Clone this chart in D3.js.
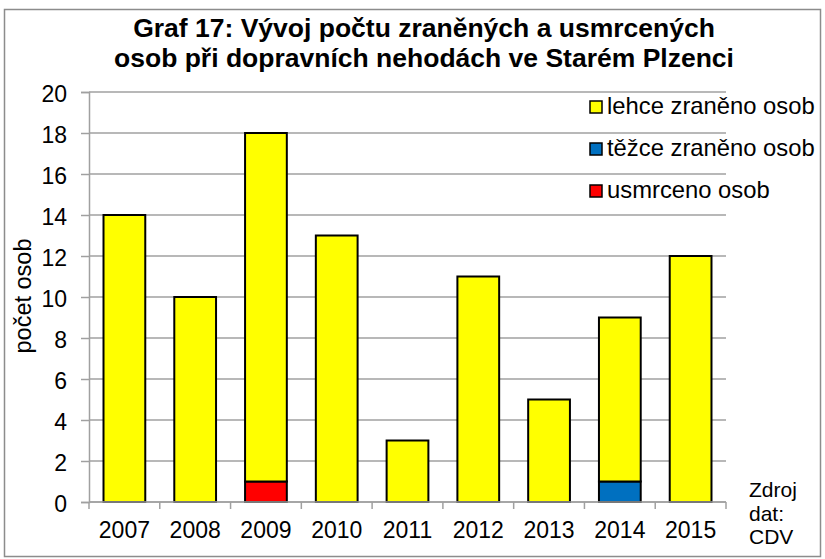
<!DOCTYPE html>
<html>
<head>
<meta charset="utf-8">
<script src="https://cdn.jsdelivr.net/npm/d3@7"></script>
<style>
        body { margin: 0; background: #fff; }
        text { font-family: "Liberation Sans", Arial, sans-serif; }
</style>
</head>
<body>
<svg id="chart" width="825" height="559"></svg>
<script>
// data
const years = ["2007", "2008", "2009", "2010", "2011", "2012", "2013", "2014", "2015"];
const lehce = [14, 10, 17, 13, 3, 11, 5, 8, 12];
const tezce = [0, 0, 0, 0, 0, 0, 0, 1, 0];
const usmrceno = [0, 0, 1, 0, 0, 0, 0, 0, 0];
const yTicks = [0, 2, 4, 6, 8, 10, 12, 14, 16, 18, 20];

const seriesNames = ["usmrceno osob", "těžce zraněno osob", "lehce zraněno osob"];
const seriesColours = ["#ff0000", "#0070c0", "#ffff00"];

const svg = d3.select("#chart");

// outer frame
svg.append("rect")
        .attr("x", 4.5).attr("y", 9.5)
        .attr("width", 816).attr("height", 547)
        .attr("fill", "#fff")
        .attr("stroke", "#8c8c8c")
        .attr("stroke-width", 1.5);

// title
const title = svg.append("text")
        .attr("text-anchor", "middle")
        .attr("font-size", "26.5px")
        .attr("font-weight", "bold")
        .attr("fill", "#000");
title.append("tspan").attr("x", 424).attr("y", 37).text("Graf 17: Vývoj počtu zraněných a usmrcených");
title.append("tspan").attr("x", 424).attr("y", 67).text("osob při dopravních nehodách ve Starém Plzenci");

const plotLeft = 89, plotRight = 726, plotTop = 92, plotBottom = 502;

const x = d3.scaleBand().domain(years).range([plotLeft, plotRight]).paddingInner(0.4).paddingOuter(0.2);
const y = d3.scaleLinear().domain([0, 20]).range([plotBottom, plotTop]);

// gridlines
svg.append("g")
        .selectAll("line")
        .data(yTicks)
        .join("line")
        .attr("x1", plotLeft).attr("x2", plotRight)
        .attr("y1", d => y(d)).attr("y2", d => y(d))
        .attr("stroke", "#a0a0a0")
        .attr("stroke-width", 1.5);

// stacked bars
const rows = years.map((yr, i) => ({
        year: yr,
        "usmrceno osob": usmrceno[i],
        "těžce zraněno osob": tezce[i],
        "lehce zraněno osob": lehce[i]
}));
const stack = d3.stack().keys(seriesNames)(rows);

const bw = x.step() * 0.59;
svg.append("g")
        .selectAll("g")
        .data(stack)
        .join("g")
        .attr("fill", (d, i) => seriesColours[i])
        .selectAll("rect")
        .data(d => d.filter(s => s[1] - s[0] > 0))
        .join("rect")
        .attr("x", d => x(d.data.year) + x.bandwidth() / 2 - bw / 2)
        .attr("width", bw)
        .attr("y", d => y(d[1]))
        .attr("height", d => y(d[0]) - y(d[1]))
        .attr("stroke", "#000")
        .attr("stroke-width", 2);

// y axis
const yAxis = svg.append("g")
        .attr("transform", `translate(${plotLeft},0)`)
        .call(d3.axisLeft(y).tickValues(yTicks).tickSize(8).tickPadding(14));
yAxis.select(".domain").attr("stroke", "#a0a0a0").attr("stroke-width", 1.5);
yAxis.selectAll(".tick line").attr("stroke", "#a0a0a0").attr("stroke-width", 1.5);
yAxis.selectAll(".tick text")
        .attr("font-size", "23px")
        .attr("dy", "0.4em")
        .attr("fill", "#000");

// x axis: ticks at category boundaries
const xAxis = svg.append("g")
        .attr("transform", `translate(0,${plotBottom})`)
        .call(d3.axisBottom(x).tickSize(0));
xAxis.select(".domain").remove();
xAxis.append("line")
        .attr("x1", plotLeft).attr("x2", plotRight)
        .attr("stroke", "#a0a0a0").attr("stroke-width", 1.5);
xAxis.selectAll(".bound")
        .data(d3.range(years.length + 1))
        .join("line")
        .attr("class", "bound")
        .attr("x1", i => plotLeft + i * x.step())
        .attr("x2", i => plotLeft + i * x.step())
        .attr("y1", 0).attr("y2", 7)
        .attr("stroke", "#a0a0a0").attr("stroke-width", 1.5);
xAxis.selectAll(".tick text")
        .attr("font-size", "23px")
        .attr("y", 36)
        .attr("dy", 0)
        .attr("fill", "#000");

// y axis label
svg.append("text")
        .attr("transform", "translate(31,296) rotate(-90)")
        .attr("text-anchor", "middle")
        .attr("font-size", "23.5px")
        .attr("fill", "#000")
        .text("počet osob");

// legend
const legendOrder = [2, 1, 0];
const legend = svg.append("g")
        .selectAll("g")
        .data(legendOrder)
        .join("g")
        .attr("transform", (d, i) => `translate(590,${101 + i * 42})`);
legend.append("rect")
        .attr("width", 12).attr("height", 12)
        .attr("fill", d => seriesColours[d])
        .attr("stroke", "#000")
        .attr("stroke-width", 1.5);
legend.append("text")
        .attr("x", 17).attr("y", 12.5)
        .attr("font-size", "23.8px")
        .attr("fill", "#000")
        .text(d => seriesNames[d]);

// source note
const src = svg.append("text")
        .attr("font-size", "21px")
        .attr("fill", "#000");
["Zdroj", "dat:", "CDV"].forEach((t, i) => {
        src.append("tspan").attr("x", 749).attr("y", 497 + i * 23.5).text(t);
});
</script>
</body>
</html>
